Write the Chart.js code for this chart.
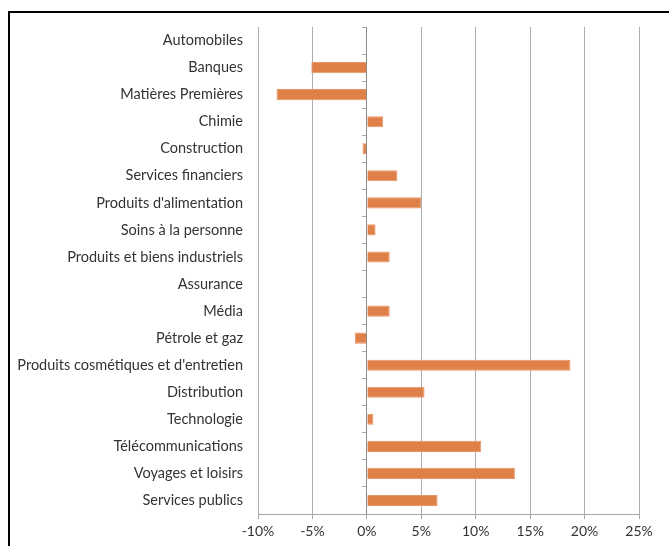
<!DOCTYPE html>
<html>
<head>
<meta charset="utf-8">
<script src="https://cdn.jsdelivr.net/npm/chart.js@4/dist/chart.umd.min.js"></script>
<style>
  html, body { margin: 0; padding: 0; background: #fff; }
  #wrap { position: relative; width: 669px; height: 546px; }
  #frame { position: absolute; left: 8px; top: 11px; width: 700px; height: 600px;
           border-left: 2px solid #000; border-top: 2px solid #000; pointer-events: none; }
</style>
</head>
<body>
<div id="wrap">
  <canvas id="chart" width="669" height="546"></canvas>
  <div id="frame"></div>
</div>
<script>
// Sector performance, horizontal bars
const sectors = [
  'Automobiles', 'Banques', 'Matières Premières', 'Chimie', 'Construction',
  'Services financiers', "Produits d'alimentation", 'Soins à la personne',
  'Produits et biens industriels', 'Assurance', 'Média', 'Pétrole et gaz',
  "Produits cosmétiques et d'entretien", 'Distribution', 'Technologie',
  'Télécommunications', 'Voyages et loisirs', 'Services publics'
];
const perf = [
  0, -5.1, -8.3, 1.5, -0.4,
  2.8, 5.0, 0.8, 2.1, 0, 2.1, -1.1,
  18.7, 5.3, 0.6, 10.5, 13.6, 6.5
];
const xMin = -10, xMax = 25, xStep = 5;

const FONT = 'Lato, "Open Sans", sans-serif';

new Chart(document.getElementById('chart'), {
  type: 'bar',
  data: {
    labels: sectors,
    datasets: [{
      data: perf,
      backgroundColor: '#DF8048',
      borderColor: '#E79467',
      borderWidth: 1,
      borderSkipped: 'start',
      barPercentage: 0.41,
      categoryPercentage: 1,
    }],
  },
  options: {
    indexAxis: 'y',
    responsive: false,
    animation: false,
    layout: { padding: { left: 0, right: 30, top: 27, bottom: 0 } },
    plugins: { legend: { display: false }, tooltip: { enabled: false } },
    scales: {
      x: {
        min: xMin, max: xMax,
        ticks: {
          stepSize: xStep,
          color: '#333',
          font: { family: FONT, size: 14 },
          padding: 4,
          callback: v => v + '%',
        },
        grid: {
          color: '#ADADAD',
          tickLength: 5,
          tickColor: '#A6A6A6',
        },
        border: { display: true, color: '#A6A6A6' },
        afterFit: s => { s.height = 32; },
      },
      y: {
        ticks: {
          color: '#333',
          font: { family: FONT, size: 14.5 },
          padding: 15,
        },
        grid: { display: false, drawTicks: false },
        border: { display: false },
        afterFit: s => { s.width = 258; },
      },
      // category axis crossing at 0%, only its line and tick marks
      y0: {
        type: 'category',
        labels: sectors,
        position: { x: 0 },
        ticks: { display: false },
        grid: { drawOnChartArea: false, drawTicks: true, tickLength: 4, offset: true, color: '#A6A6A6' },
        border: { display: true, color: '#8C8C8C', width: 1 },
      },
    },
  },
});
</script>
</body>
</html>
